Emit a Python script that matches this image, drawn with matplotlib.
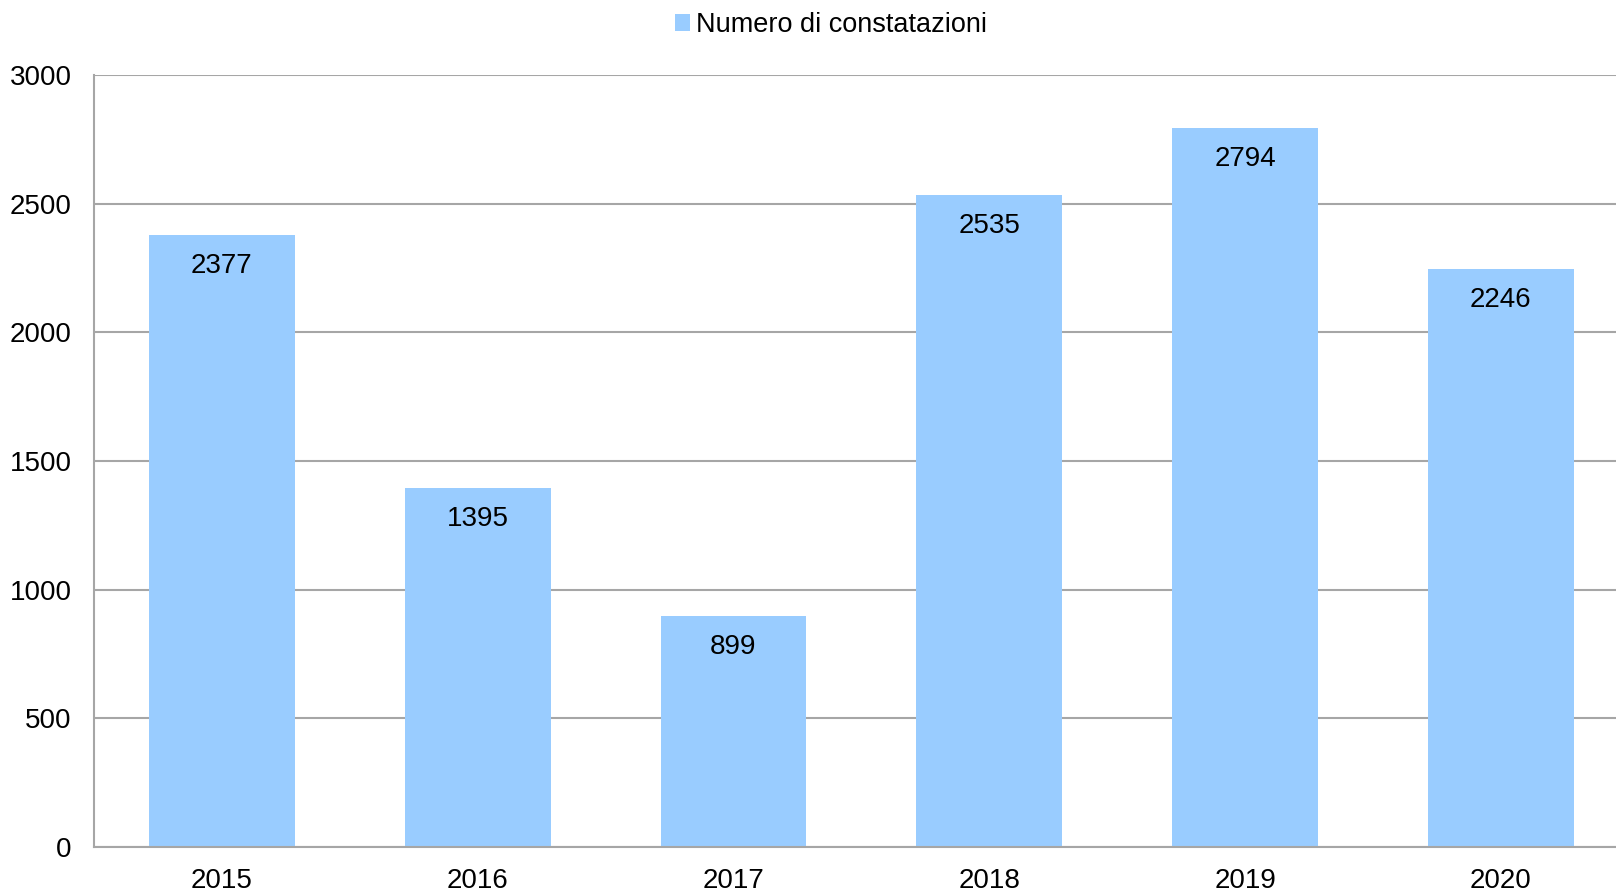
import matplotlib
matplotlib.use("Agg")
import matplotlib.pyplot as plt
from matplotlib.patches import Patch
from matplotlib.transforms import offset_copy

categories = ["2015", "2016", "2017", "2018", "2019", "2020"]
values = [2377, 1395, 899, 2535, 2794, 2246]
yticks = [0, 500, 1000, 1500, 2000, 2500, 3000]
series_name = "Numero di constatazioni"

plt.rcParams['font.family'] = ['Liberation Sans', 'DejaVu Sans']
W, H = 1616, 890
fig = plt.figure(figsize=(W/100, H/100), dpi=100)
ax = fig.add_axes([94/W, 1-847/H, (1616-94)/W, (847-75)/H])

color = "#99CCFF"
fs = 20
x = list(range(len(categories)))
bars = ax.bar(x, values, width=0.57, color=color, zorder=3)
ax.set_xlim(-0.5, 5.45)
ax.set_ylim(0, 3000)
ax.set_yticks(yticks)
ax.set_yticklabels([str(t) for t in yticks], fontsize=fs)
ax.set_xticks(x)
ax.set_xticklabels(categories, fontsize=fs)
ax.tick_params(axis='both', length=0)
ax.tick_params(axis='x', pad=15)
ax.tick_params(axis='y', pad=16)
ax.grid(axis='y', color='#a6a6a6', linewidth=1.5, zorder=0)
for s in ['top', 'right']:
    ax.spines[s].set_visible(False)
for s in ['left', 'bottom']:
    ax.spines[s].set_color('#a6a6a6')
    ax.spines[s].set_linewidth(1.5)
    ax.spines[s].set_zorder(4)

for xi, v in zip(x, values):
    tr = offset_copy(ax.transData, fig=fig, x=0, y=-31, units='dots')
    ax.text(xi, v, str(v), transform=tr, ha='center', va='center', fontsize=fs, zorder=5)

handle = Patch(facecolor=color, edgecolor='none')
fig.legend([handle], [series_name], loc='center', bbox_to_anchor=(831/W, 1-25/H),
           frameon=False, fontsize=19.5, handlelength=0.55, handleheight=0.55,
           handletextpad=0.25)

fig.savefig("out.png", dpi=100)
